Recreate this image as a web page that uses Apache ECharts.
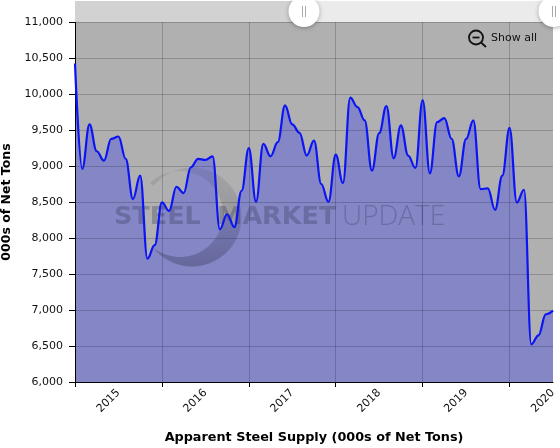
<!DOCTYPE html>
<html><head><meta charset="utf-8">
<style>html,body{margin:0;padding:0;background:#fff}#c{width:560px;height:448px}</style>
<script src="https://cdn.jsdelivr.net/npm/echarts@6/dist/echarts.min.js"></script>
</head><body><div id="c"></div>
<script>
const years = [2015, 2016, 2017, 2018, 2019, 2020];
const supply2015 = [10423, 8960, 9577, 9205, 9075, 9377, 9410, 9100, 8540, 8865, 7713, 7900];
const supply2016 = [8494, 8377, 8712, 8624, 8982, 9100, 9085, 9135, 8120, 8330, 8150, 8656];
const supply2017 = [9247, 8503, 9307, 9135, 9331, 9842, 9577, 9461, 9145, 9354, 8750, 8503];
const supply2018 = [9159, 8763, 9949, 9819, 9633, 8935, 9456, 9833, 9107, 9563, 9145, 8973];
const supply2019 = [9917, 8898, 9610, 9665, 9377, 8856, 9377, 9633, 8680, 8689, 8391, 8866];
const supply2020 = [9530, 8494, 8670, 6523, 6648, 6940, 6990];
const supply = [].concat(supply2015, supply2016, supply2017, supply2018, supply2019, supply2020);
const categories = supply.map((_, i) => years[Math.floor(i / 12)] + '-' + String(i % 12 + 1).padStart(2, '0'));
const yTitle = '000s of Net Tons';
const xTitle = 'Apparent Steel Supply (000s of Net Tons)';
const font = '"DejaVu Sans", Verdana, sans-serif';
const grid = 'rgba(20,20,40,0.22)';
const atYearStart = i => i % 12 === 0;
const atMidYear = i => i % 12 === 6;
const wm = 'rgba(50,50,80,0.30)';
const wmFade = {type: 'linear', x: 0, y: 0, x2: 0, y2: 1, colorStops: [
  {offset: 0, color: 'rgba(50,50,70,0.10)'}, {offset: 0.5, color: 'rgba(50,50,80,0.18)'}, {offset: 1, color: 'rgba(50,50,80,0.36)'}]};

// watermark crescent outline
const crescent = [];
for (let a = -141; a <= 142; a += 6) crescent.push([192 + 49.5 * Math.cos(a * Math.PI / 180), 217 + 49.5 * Math.sin(a * Math.PI / 180)]);
for (let a = 130; a >= -134; a -= 6) crescent.push([180 + 43 * Math.cos(a * Math.PI / 180), 214 + 43 * Math.sin(a * Math.PI / 180)]);

const chart = echarts.init(document.getElementById('c'), null, {renderer: 'canvas'});
chart.setOption({
  animation: false,
  backgroundColor: '#fff',
  grid: {left: 75, right: 7, top: 22, bottom: 66, show: true, backgroundColor: '#b0b0b0', borderWidth: 0, outerBoundsMode: 'none'},
  xAxis: {
    type: 'category', data: categories, boundaryGap: false, z: 3,
    axisLine: {lineStyle: {color: '#000', width: 1}},
    axisTick: {interval: atYearStart, length: 5, lineStyle: {color: '#000'}},
    splitLine: {show: true, interval: atYearStart, lineStyle: {color: grid, width: 1}},
    axisLabel: {
      interval: atMidYear, rotate: 45, margin: 9, color: '#111',
      fontFamily: font, fontSize: 11, hideOverlap: false,
      formatter: v => v.slice(0, 4)
    },
    name: xTitle, nameLocation: 'middle', nameGap: 49,
    nameTextStyle: {fontFamily: font, fontWeight: 'bold', fontSize: 12.8, color: '#000'}
  },
  yAxis: {
    type: 'value', min: 6000, max: 11000, interval: 500, z: 3,
    axisLine: {show: true, lineStyle: {color: '#000', width: 1}},
    axisTick: {show: true, length: 6, lineStyle: {color: '#000'}},
    splitLine: {show: true, lineStyle: {color: grid, width: 1}},
    axisLabel: {margin: 12, color: '#111', fontFamily: font, fontSize: 11},
    name: yTitle, nameLocation: 'middle', nameGap: 60,
    nameTextStyle: {fontFamily: font, fontWeight: 'bold', fontSize: 12.5, color: '#000'}
  },
  series: [
    {type: 'line', data: supply, smooth: 0.4, smoothMonotone: 'x', z: 1, symbol: 'none', silent: true,
     lineStyle: {width: 0, opacity: 0},
     areaStyle: {color: '#8486c6', opacity: 1}},
    {type: 'line', data: supply, smooth: 0.4, smoothMonotone: 'x', z: 5, symbol: 'none', silent: true,
     lineStyle: {color: '#0a14f5', width: 2.2}}
  ],
  graphic: [
    {type: 'polygon', z: 2, silent: true, shape: {points: crescent}, style: {fill: wmFade}},
    {type: 'text', z: 2, silent: true, x: 114, y: 217, style: {text: 'STEEL', font: 'bold 25.5px "DejaVu Sans"', fill: wm, verticalAlign: 'middle'}},
    {type: 'text', z: 2, silent: true, x: 217, y: 217, style: {text: 'MARKET', font: 'bold 25.5px "DejaVu Sans"', fill: wm, verticalAlign: 'middle'}},
    {type: 'text', z: 2, silent: true, x: 342, y: 217, style: {text: 'UPDATE', font: '300 28px "Open Sans"', fill: wm, verticalAlign: 'middle'}},
    {type: 'rect', z: 6, silent: true, shape: {x: 75, y: 1, width: 229, height: 21}, style: {fill: '#d2d2d2'}},
    {type: 'rect', z: 6, silent: true, shape: {x: 304, y: 1, width: 249, height: 21}, style: {fill: '#ebebeb'}},
    {type: 'circle', z: 7, silent: true, shape: {cx: 304, cy: 11.5, r: 15.5}, style: {fill: '#fff', shadowBlur: 4, shadowColor: 'rgba(0,0,0,.3)', shadowOffsetY: 1}},
    {type: 'circle', z: 7, silent: true, shape: {cx: 554, cy: 11.5, r: 15.5}, style: {fill: '#fff', shadowBlur: 4, shadowColor: 'rgba(0,0,0,.3)', shadowOffsetY: 1}},
    {type: 'line', z: 8, silent: true, shape: {x1: 302.5, y1: 6, x2: 302.5, y2: 17}, style: {stroke: '#a8a8a8', lineWidth: 1}},
    {type: 'line', z: 8, silent: true, shape: {x1: 305.5, y1: 6, x2: 305.5, y2: 17}, style: {stroke: '#a8a8a8', lineWidth: 1}},
    {type: 'line', z: 8, silent: true, shape: {x1: 552.5, y1: 6, x2: 552.5, y2: 17}, style: {stroke: '#a8a8a8', lineWidth: 1}},
    {type: 'line', z: 8, silent: true, shape: {x1: 555.5, y1: 6, x2: 555.5, y2: 17}, style: {stroke: '#a8a8a8', lineWidth: 1}},
    {type: 'circle', z: 8, silent: true, shape: {cx: 476, cy: 37.5, r: 7}, style: {fill: 'none', stroke: '#111', lineWidth: 1.8}},
    {type: 'line', z: 8, silent: true, shape: {x1: 472.5, y1: 37.5, x2: 479.5, y2: 37.5}, style: {stroke: '#111', lineWidth: 1.8}},
    {type: 'line', z: 8, silent: true, shape: {x1: 481, y1: 42.5, x2: 486, y2: 47}, style: {stroke: '#111', lineWidth: 1.8}},
    {type: 'text', z: 8, silent: true, x: 491, y: 38, style: {text: 'Show all', font: '11px "DejaVu Sans"', fill: '#111', verticalAlign: 'middle'}}
  ]
});
</script></body></html>
